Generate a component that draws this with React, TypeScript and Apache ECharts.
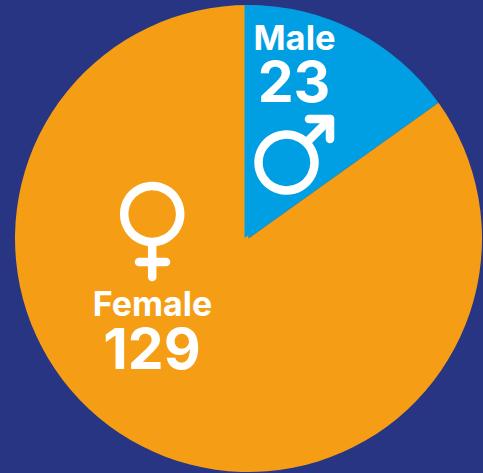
import React, { useEffect, useRef } from "react";
import * as echarts from "echarts";

const categories = ["Male", "Female"];
const values = [23, 129];
const colors = ["#009FE3", "#F59E15"];
const FONT = "Inter";

function sym(shape: any, w = 8.5) {
  return {
    type: shape.type,
    z: 10,
    shape: shape.shape,
    style: { stroke: "#fff", lineWidth: w, fill: "none", lineCap: "round", lineJoin: "round" },
  };
}
function txt(text: string, x: number, y: number, size: number, lh: number) {
  return {
    type: "text",
    z: 10,
    x,
    y,
    style: {
      text,
      fill: "#fff",
      font: `700 ${size}px ${FONT}`,
      lineHeight: lh,
      textAlign: "center",
      textVerticalAlign: "middle",
    },
  };
}

export default function App() {
  const ref = useRef<HTMLDivElement>(null);
  useEffect(() => {
    const chart = echarts.init(ref.current!, null, { renderer: "svg" });
    const base = {
      type: "pie",
      startAngle: 90,
      clockwise: true,
      silent: true,
      label: { show: false },
      labelLine: { show: false },
    };
    chart.setOption({
      animation: false,
      backgroundColor: "#283583",
      series: [
        {
          ...base,
          center: [248.5, 238.5],
          radius: [0, 233.5],
          data: categories.map((name, i) => ({
            name,
            value: values[i],
            itemStyle: { color: colors[i] },
          })),
        },
        // the male wedge sits slightly left of the circle's centre in the reference
        {
          ...base,
          z: 3,
          center: [244.5, 238],
          radius: [0, 233],
          data: categories.map((name, i) => ({
            name,
            value: values[i],
            itemStyle: { color: i === 0 ? colors[0] : "transparent" },
          })),
        },
      ],
      graphic: [
        txt(categories[0], 294.5, 37, 34.5, 27),
        txt(String(values[0]), 294, 81, 57, 44),
        sym({ type: "circle", shape: { cx: 286.5, cy: 162.5, r: 28 } }),
        sym({ type: "line", shape: { x1: 308, y1: 141, x2: 330, y2: 119 } }),
        sym({ type: "polyline", shape: { points: [[309, 119], [330, 119], [330, 139]] } }),
        sym({ type: "circle", shape: { cx: 152.2, cy: 214, r: 28 } }),
        sym({ type: "line", shape: { x1: 152.2, y1: 246, x2: 152.2, y2: 277 } }),
        sym({ type: "line", shape: { x1: 139, y1: 262, x2: 166, y2: 262 } }),
        txt(categories[1], 152.5, 303, 34, 27),
        txt(String(values[1]), 152, 348.5, 57, 44),
      ],
    });
    return () => chart.dispose();
  }, []);
  return <div ref={ref} style={{ position: "fixed", left: 0, top: 0, width: 483, height: 473 }} />;
}
